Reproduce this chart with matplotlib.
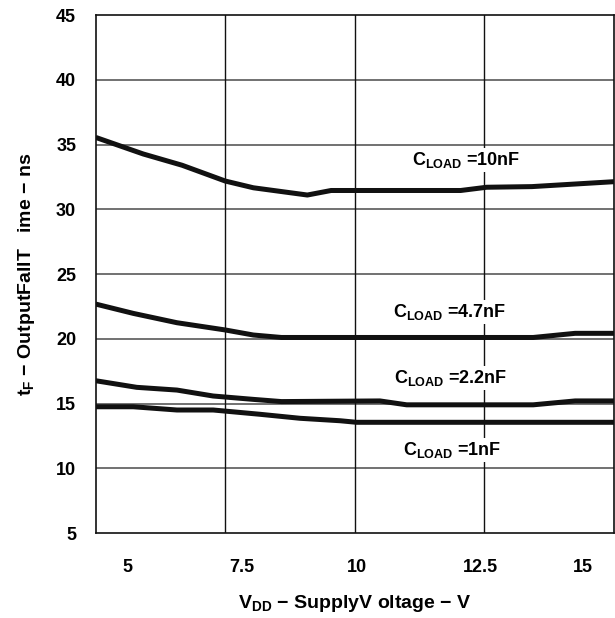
import matplotlib
matplotlib.use('Agg')
import matplotlib.pyplot as plt

plt.rcParams['font.family'] = ['Liberation Sans', 'DejaVu Sans']
plt.rcParams['font.weight'] = 'bold'
plt.rcParams['axes.labelweight'] = 'bold'
plt.rcParams['mathtext.fontset'] = 'custom'
plt.rcParams['mathtext.rm'] = 'Liberation Sans:bold'
plt.rcParams['mathtext.it'] = 'Liberation Sans:bold'
plt.rcParams['mathtext.bf'] = 'Liberation Sans:bold'

# supply voltage (V) and fall time (ns) per load
x_10n = [4.0, 5.1, 6.0, 7.0, 7.65, 8.9, 9.45, 12.45, 13.05, 14.1, 16.0]
y_10n = [35.55, 34.27, 33.4, 32.18, 31.66, 31.1, 31.45, 31.45, 31.7, 31.75, 32.13]

x_4n7 = [4.0, 4.87, 5.88, 7.0, 7.65, 8.3, 14.13, 15.1, 16.0]
y_4n7 = [22.68, 21.96, 21.24, 20.68, 20.29, 20.1, 20.1, 20.42, 20.42]

x_2n2 = [4.0, 4.95, 5.88, 6.72, 7.65, 8.3, 10.58, 11.2, 14.13, 15.1, 16.0]
y_2n2 = [16.76, 16.25, 16.04, 15.58, 15.32, 15.15, 15.2, 14.9, 14.9, 15.2, 15.2]

x_1n = [4.0, 4.87, 5.88, 6.72, 7.8, 8.73, 9.66, 10.04, 16.0]
y_1n = [14.75, 14.75, 14.5, 14.5, 14.17, 13.86, 13.67, 13.55, 13.55]

labels = [r'$\mathregular{C_{LOAD}}$ =10nF', r'$\mathregular{C_{LOAD}}$ =4.7nF',
          r'$\mathregular{C_{LOAD}}$ =2.2nF', r'$\mathregular{C_{LOAD}}$ =1nF']
label_pos = [(12.58, 33.8), (12.2, 22.09), (12.22, 16.97), (12.26, 11.41)]

xtick_pos = [4.74, 7.38, 10.04, 12.9, 15.28]
xtick_labels = ['5', '7.5', '10', '12.5', '15']
ytick_vals = [5, 10, 15, 20, 25, 30, 35, 40, 45]

fig = plt.figure(figsize=(6.15, 6.18), dpi=100)
ax = fig.add_axes([0.1556, 0.1375, 0.8428, 0.8382])

# grid first so labels can mask it
for yv in ytick_vals[1:-1]:
    ax.axhline(yv, color='#666666', lw=1.3, zorder=1)
for xv in [7, 10, 13]:
    ax.axvline(xv, color='#111111', lw=1.0, zorder=1)

for xs, ys in [(x_10n, y_10n), (x_4n7, y_4n7), (x_2n2, y_2n2), (x_1n, y_1n)]:
    ax.plot(xs, ys, color='#111111', lw=3.6, solid_capstyle='butt', zorder=3)

for txt, (tx, ty) in zip(labels, label_pos):
    ax.text(tx, ty, txt, ha='center', va='center', fontsize=13, zorder=4,
            bbox=dict(facecolor='white', edgecolor='none', pad=1.5))

ax.set_xlim(4, 16)
ax.set_ylim(5, 45)
ax.set_xticks(xtick_pos)
ax.set_xticklabels(xtick_labels)
ax.set_yticks(ytick_vals)
ax.tick_params(axis='both', length=0, labelsize=13)
ax.tick_params(axis='x', pad=19)
ax.tick_params(axis='y', pad=14)
for sp in ax.spines.values():
    sp.set_linewidth(1.2)
    sp.set_color('#111111')

ax.set_xlabel(r'$\mathregular{V_{DD}}$ $-$ SupplyV oltage $-$ V', fontsize=14, labelpad=12)
ax.set_ylabel(r'$\mathregular{t_F}$ $-$ OutputFallT   ime $-$ ns', fontsize=14, labelpad=14)

fig.savefig('out.png', dpi=100)
